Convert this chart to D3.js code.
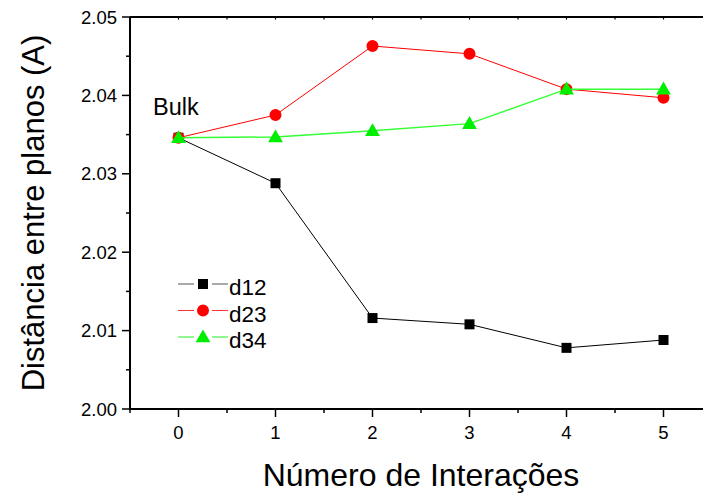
<!DOCTYPE html>
<html><head><meta charset="utf-8">
<script src="https://cdn.jsdelivr.net/npm/d3@7"></script>
<style>body{margin:0;background:#fff}svg{display:block}text{font-family:"Liberation Sans",Arial,sans-serif}</style>
</head><body><svg id="c" width="703" height="496"></svg>
<script>
const iterations = [0,1,2,3,4,5];
const d12 = [2.0346,2.0288,2.0116,2.0108,2.0078,2.0088];
const d23 = [2.0346,2.0375,2.0463,2.0453,2.0408,2.0397];
const d34 = [2.0346,2.0347,2.0355,2.0364,2.0408,2.0408];
const yTicks = [2.00,2.01,2.02,2.03,2.04,2.05];
const xTicks = [0,1,2,3,4,5];
const seriesNames = ["d12","d23","d34"];
const seriesColors = ["#000000","#ff0000","#00ee00"];
const lineColors = ["#000000","#ff0000","#33ff33"];
const legendLineColors = ["#555555","#ff3333","#22ee22"];
const seriesShapes = ["square","circle","triangle"];

const svg = d3.select("#c");
const L=130, R=712, T=17, B=409;
const x = d3.scaleLinear().domain([-0.5,5.5]).range([L,R]);
const y = d3.scaleLinear().domain([2.00,2.05]).range([B,T]);

const ax = svg.append("g").attr("stroke","#000").attr("stroke-width",2);
ax.append("line").attr("x1",L).attr("x2",R).attr("y1",B).attr("y2",B);
ax.append("line").attr("x1",L).attr("x2",L).attr("y1",T).attr("y2",B+1);
ax.append("line").attr("x1",L).attr("x2",R).attr("y1",T).attr("y2",T);

const yMinor = d3.range(0,10).map(i=>2.005+i*0.005).filter(v=>!yTicks.some(t=>Math.abs(t-v)<1e-9) && v<2.05);
svg.append("g").selectAll("line").data(yTicks).join("line")
  .attr("x1",L-8).attr("x2",L).attr("y1",d=>y(d)).attr("y2",d=>y(d)).attr("stroke","#000").attr("stroke-width",1.5);
svg.append("g").selectAll("line").data(yMinor).join("line")
  .attr("x1",L-4).attr("x2",L).attr("y1",d=>y(d)).attr("y2",d=>y(d)).attr("stroke","#000").attr("stroke-width",1.5);
svg.append("g").selectAll("text").data(yTicks).join("text")
  .attr("x",L-13).attr("y",d=>y(d)+6.5).attr("text-anchor","end").attr("font-size",18.5).text(d=>d.toFixed(2));

const xMinor = [-0.5,0.5,1.5,2.5,3.5,4.5];
svg.append("g").selectAll("line").data(xTicks).join("line")
  .attr("x1",d=>x(d)).attr("x2",d=>x(d)).attr("y1",B).attr("y2",B+8).attr("stroke","#000").attr("stroke-width",1.5);
svg.append("g").selectAll("line").data(xMinor).join("line")
  .attr("x1",d=>x(d)).attr("x2",d=>x(d)).attr("y1",B).attr("y2",B+4).attr("stroke","#000").attr("stroke-width",1.5);
svg.append("g").selectAll("line").data(xTicks.concat(xMinor)).join("line")
  .attr("x1",d=>x(d)).attr("x2",d=>x(d)).attr("y1",T).attr("y2",T+2.5).attr("stroke","#000").attr("stroke-width",1.2);
svg.append("g").selectAll("text").data(xTicks).join("text")
  .attr("x",d=>x(d)).attr("y",B+30).attr("text-anchor","middle").attr("font-size",18.5).text(d=>d);

svg.append("text").attr("x",421).attr("y",486).attr("text-anchor","middle").attr("font-size",32).text("Número de Interações");
svg.append("text").attr("transform",`translate(44,${(T+B)/2}) rotate(-90)`).attr("text-anchor","middle").attr("font-size",31).text("Distância entre planos (A)");
svg.append("text").attr("x",153).attr("y",115).attr("font-size",23.5).text("Bulk");

const sym = {square:d3.symbolSquare, circle:d3.symbolCircle, triangle:d3.symbolTriangle};
const sizes = {square:100, circle:113, triangle:95};
function marker(g,shape,color,cx,cy){
  g.append("path").attr("d",d3.symbol(sym[shape],sizes[shape])()).attr("transform",`translate(${cx},${cy+(shape==="triangle"?1:0)})`).attr("fill",color);
}
const data = [d12,d23,d34];
const line = d3.line().x((d,i)=>x(iterations[i])).y(d=>y(d));
data.forEach((vals,k)=>{
  const g = svg.append("g");
  g.append("path").datum(vals).attr("d",line).attr("fill","none").attr("stroke",lineColors[k]).attr("stroke-width",k===2?1.5:1);
  vals.forEach((v,i)=>marker(g,seriesShapes[k],seriesColors[k],x(iterations[i]),y(v)));
});

seriesNames.forEach((n,k)=>{
  const g = svg.append("g");
  const yy = 284 + k*26.5;
  g.append("line").attr("x1",178).attr("x2",194).attr("y1",yy).attr("y2",yy).attr("stroke",legendLineColors[k]).attr("stroke-width",1);
  g.append("line").attr("x1",212).attr("x2",228).attr("y1",yy).attr("y2",yy).attr("stroke",legendLineColors[k]).attr("stroke-width",1);
  marker(g,seriesShapes[k],seriesColors[k],203,yy);
  g.append("text").attr("x",229).attr("y",yy+11).attr("font-size",22.5).text(n);
});
</script></body></html>
